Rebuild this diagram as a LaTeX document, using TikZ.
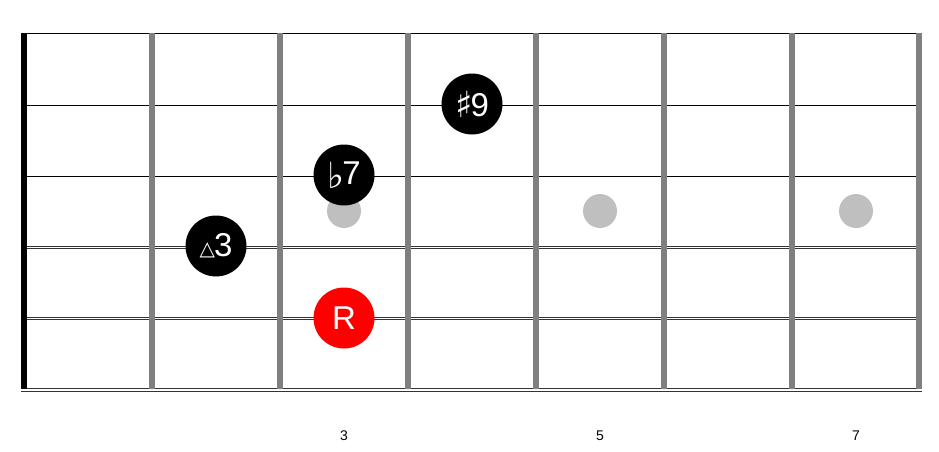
\documentclass[tikz,border=0pt]{standalone}
\usepackage{fontspec}
\setmainfont{Liberation Sans}
\newfontfamily\symfont{DejaVu Sans}
\begin{document}
\begin{tikzpicture}[x=1pt,y=-1pt,
  note/.style={circle,fill=black,minimum size=61pt,inner sep=0pt,text=white,font=\fontsize{33}{33}\selectfont},
  root/.style={note,fill=red},
  marker/.style={circle,fill=black!25,minimum size=34pt,inner sep=0pt},
  fretnum/.style={font=\fontsize{14}{14}\selectfont},
  fretline/.style={line width=6pt,draw=black!50},
  thinstring/.style={line width=1.3pt,draw=black},
]
\useasboundingbox (0,0) rectangle (939,452);
\fill[white] (0,0) rectangle (939,452);
% plain strings
\foreach \y in {33.3,105.3,176.3}{\draw[thinstring] (21,\y) -- (922,\y);}
% wound strings
\draw[line width=3pt,draw=black!80] (21,247.6) -- (922,247.6);
\draw[line width=1pt,draw=white] (21,247.6) -- (922,247.6);
\draw[line width=3.2pt,draw=black!80] (21,318.8) -- (922,318.8);
\draw[line width=1.2pt,draw=white] (21,318.8) -- (922,318.8);
\draw[line width=4.2pt,draw=black!80] (21,390.3) -- (922,390.3);
\draw[line width=2pt,draw=white] (21,390.3) -- (922,390.3);
% nut and frets
\fill[black] (21,33) rectangle (27,389);
\foreach \x in {152,280,408,536,664,792,919}{\draw[fretline] (\x,33) -- (\x,389);}
% fret markers
\node[marker] (m3) at (344,211) {};
\node[marker] (m5) at (600,211) {};
\node[marker] (m7) at (856,211) {};
% fret numbers
\node[fretnum] (n3) at (344,436) {3};
\node[fretnum] (n5) at (600,436) {5};
\node[fretnum] (n7) at (856,436) {7};
% notes
\node[note] (s9) at (472,104) {\raisebox{-1pt}{\symfont\fontsize{36}{36}\selectfont ♯}\kern-2pt 9};
\node[note] (f7) at (344,175) {\raisebox{-4pt}{\symfont\fontsize{36}{36}\selectfont ♭}\kern-2pt 7};
\node[note] (t3) at (216,246) {\raisebox{1pt}{\symfont\fontsize{20}{20}\selectfont △}\kern-1pt 3};
\node[root] (r) at (344,318) {R};
\end{tikzpicture}
\end{document}
